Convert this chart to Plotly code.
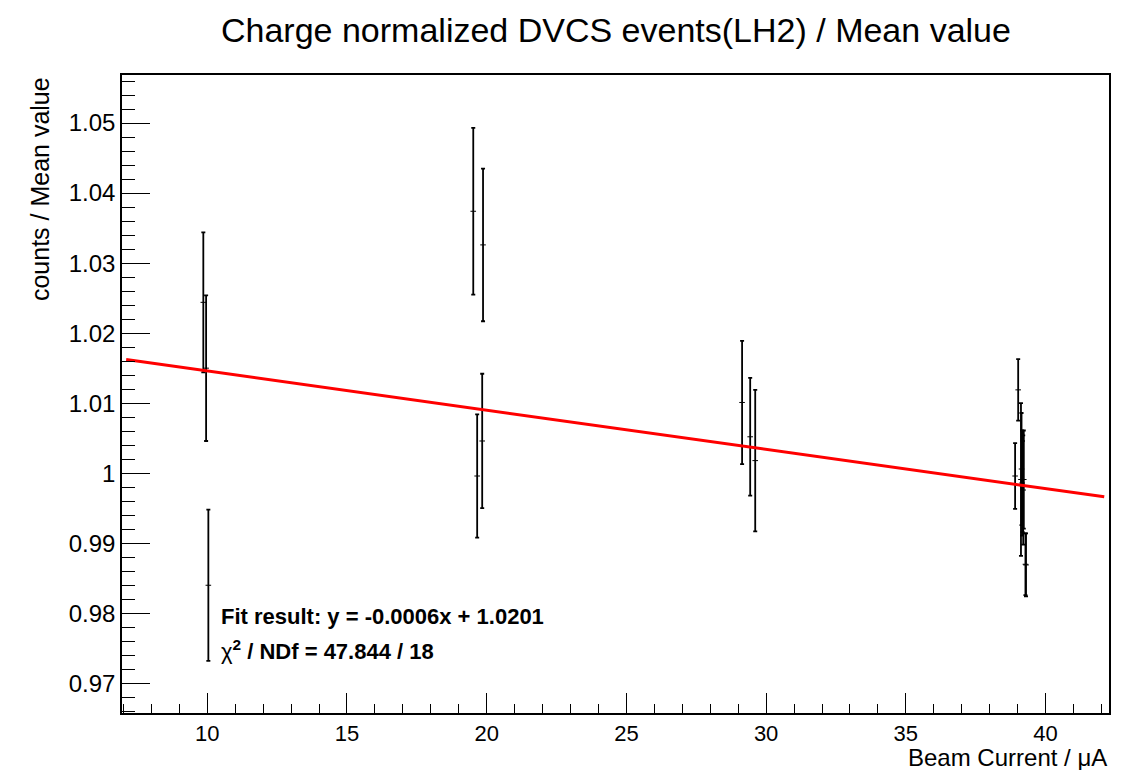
import plotly.graph_objects as go

# beam current (uA) of each run
current = [9.86, 9.96, 10.04,
           19.52, 19.66, 19.84, 19.87,
           29.14, 29.43, 29.61,
           38.91, 39.02, 39.12, 39.14, 39.16, 39.18, 39.20, 39.22, 39.28, 39.30]

# charge normalized counts / mean value
ratio = [1.0244, 1.0150, 0.9840,
         1.0374, 0.9996, 1.0046, 1.0326,
         1.0101, 1.0052, 1.0018,
         0.9996, 1.0119, 0.9991, 1.0006, 0.9986, 0.9981, 0.9976, 0.9991, 0.9870, 0.9869]

ratio_err = [0.0100, 0.0104, 0.0108,
             0.0119, 0.0088, 0.0096, 0.0109,
             0.0088, 0.0084, 0.0101,
             0.0047, 0.0044, 0.0109, 0.0080, 0.0075, 0.0065, 0.0078, 0.0070, 0.0044, 0.0045]

# linear fit result
fit_slope = -0.00056
fit_intercept = 1.0202
fit_range = [7.1, 42.1]

y_ticks = [0.97, 0.98, 0.99, 1.0, 1.01, 1.02, 1.03, 1.04, 1.05]
y_ticktext = ["0.97", "0.98", "0.99", "1", "1.01", "1.02", "1.03", "1.04", "1.05"]

fit_y = [fit_slope * x + fit_intercept for x in fit_range]

fig = go.Figure()

fig.add_trace(go.Scatter(
    x=current,
    y=ratio,
    mode="markers",
    marker=dict(symbol="line-ew", size=4, line=dict(color="black", width=1)),
    error_y=dict(type="data", array=ratio_err, color="black", thickness=1.8, width=2),
    showlegend=False,
))

fig.add_trace(go.Scatter(
    x=fit_range,
    y=fit_y,
    mode="lines",
    line=dict(color="#ff0000", width=3),
    showlegend=False,
))

font = "Liberation Sans, Arial, sans-serif"

# the page body adds an 8px margin, so the figure is sized a little smaller
fig.update_layout(
    width=1117,
    height=762,
    margin=dict(l=114, r=16, t=67, b=57),
    paper_bgcolor="white",
    plot_bgcolor="white",
    font=dict(family=font, color="black"),
    xaxis=dict(
        range=[6.95, 42.27],
        showgrid=False, zeroline=False,
        showline=True, linecolor="black", linewidth=1.5, mirror=True,
        ticks="inside", ticklen=20, tickwidth=1.2, tickcolor="black",
        dtick=5, tick0=0,
        minor=dict(ticks="inside", ticklen=9, dtick=1, tickcolor="black", showgrid=False),
        tickfont=dict(size=22, family=font),
    ),
    yaxis=dict(
        range=[0.96576, 1.05686],
        showgrid=False, zeroline=False,
        showline=True, linecolor="black", linewidth=1.5, mirror=True,
        ticks="inside", ticklen=28, tickwidth=1.2, tickcolor="black",
        tickvals=y_ticks, ticktext=y_ticktext,
        minor=dict(ticks="inside", ticklen=13, dtick=0.002, tick0=0.96, tickcolor="black", showgrid=False),
        tickfont=dict(size=24, family=font),
    ),
    annotations=[
        dict(text="Charge normalized DVCS events(LH2) / Mean value", xref="paper", yref="paper",
             x=0.5, y=1.071, xanchor="center", yanchor="middle", showarrow=False,
             font=dict(size=34, family=font)),
        dict(text="Beam Current / \u03bcA", xref="paper", yref="paper",
             x=1.0, y=-0.069, xanchor="right", yanchor="middle", showarrow=False,
             font=dict(size=24, family=font)),
        dict(text="counts / Mean value", xref="paper", yref="paper",
             x=-0.083, y=1.0, xanchor="center", yanchor="top", textangle=-90, showarrow=False,
             font=dict(size=25, family=font)),
        dict(text="<b>Fit result: y = -0.0006x + 1.0201</b>", xref="paper", yref="paper",
             x=0.0983, y=0.1505, xanchor="left", yanchor="middle", showarrow=False,
             font=dict(size=22, family=font)),
        dict(text="\u03c7<b><sup>2</sup> / NDf = 47.844 / 18</b>", xref="paper", yref="paper",
             x=0.0983, y=0.0987, xanchor="left", yanchor="middle", showarrow=False,
             font=dict(size=22, family=font)),
    ],
)

fig.write_html("out.html")
